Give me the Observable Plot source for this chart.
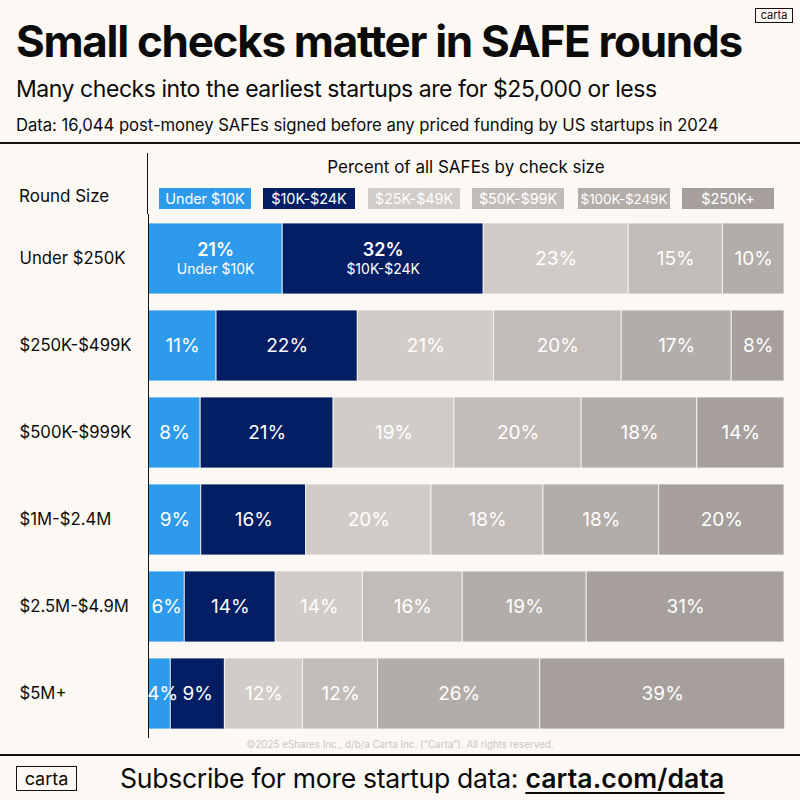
<!DOCTYPE html>
<html><head><meta charset="utf-8">
<script src="https://cdn.jsdelivr.net/npm/d3@7"></script>
<script src="https://cdn.jsdelivr.net/npm/@observablehq/plot@0.6"></script>
<style>
html,body{margin:0;padding:0;background:#fcf9f4;width:800px;height:800px;overflow:hidden;font-family:Inter,sans-serif;color:#0b0b0b}
.a{position:absolute;white-space:nowrap;line-height:1}
.logo{border:1.4px solid #111;box-sizing:border-box;display:flex;align-items:center;justify-content:center;background:#fcf9f4}
.chip{position:absolute;top:188px;width:92px;height:21px;color:#fff;font-size:14.5px;display:flex;align-items:center;justify-content:center;white-space:nowrap;letter-spacing:-.1px}
#chart{position:absolute;left:0;top:213.5px}
</style></head><body>
<div class="a" id="title" style="left:16px;top:19px;font-size:44px;font-weight:700;letter-spacing:-1.3px">Small checks matter in SAFE rounds</div>
<div class="a logo" style="left:755px;top:8px;width:38px;height:15px;font-size:11px">carta</div>
<div class="a" id="sub" style="left:16px;top:78px;font-size:23px;font-weight:400;letter-spacing:-.45px">Many checks into the earliest startups are for $25,000 or less</div>
<div class="a" id="data" style="left:16px;top:117px;font-size:16.7px;letter-spacing:-.05px">Data: 16,044 post-money SAFEs signed before any priced funding by US startups in 2024</div>
<div class="a" style="left:0;top:142px;width:800px;height:2px;background:#111"></div>
<div class="a" style="left:147px;top:153px;width:1px;height:61px;background:#111"></div>
<div class="a" style="left:19px;top:188px;font-size:17px">Round Size</div>
<div class="a" style="left:148px;width:636px;text-align:center;top:159px;font-size:17px">Percent of all SAFEs by check size</div>
<div id="legend"></div>
<div id="chart"></div>
<div class="a" style="left:0;width:800px;text-align:center;top:740px;font-size:9.8px;color:#c9c5c0">©2025 eShares Inc., d/b/a Carta Inc. (“Carta”). All rights reserved.</div>
<div class="a" style="left:0;top:754px;width:800px;height:2px;background:#111"></div>
<div class="a logo" style="left:16px;top:766px;width:61px;height:25px;font-size:18px">carta</div>
<div class="a" id="sub2" style="left:120px;top:765px;font-size:26.6px;letter-spacing:-.3px">Subscribe for more startup data: <span style="font-weight:600;letter-spacing:.1px;text-decoration:underline;text-underline-offset:4px;text-decoration-thickness:1.5px">carta.com/data</span></div>
<script>
const rounds = ["Under $250K","$250K-$499K","$500K-$999K","$1M-$2.4M","$2.5M-$4.9M","$5M+"];
const checks = ["Under $10K","$10K-$24K","$25K-$49K","$50K-$99K","$100K-$249K","$250K+"];
const colors = ["#2e9aec","#041e63","#d1ccc8","#c2bcb8","#b3ada9","#a69f9c"];
// Segment shares. The first row has five segments in the source.
const under250  = [21.1,31.6,22.8,14.8,9.7];
const r250to499 = [10.7,22.2,21.4,20.1,17.3,8.3];
const r500to999 = [8.2,20.9,19.0,20.0,18.2,13.7];
const r1to24    = [8.3,16.5,19.7,17.6,18.2,19.7];
const r25to49   = [5.7,14.3,13.7,15.7,19.5,31.1];
const r5plus    = [3.5,8.5,12.3,11.8,25.5,38.5];
// Percent labels as printed on the chart.
const labels250  = ["21%","32%","23%","15%","10%"];
const labels499  = ["11%","22%","21%","20%","17%","8%"];
const labels999  = ["8%","21%","19%","20%","18%","14%"];
const labels24   = ["9%","16%","20%","18%","18%","20%"];
const labels49   = ["6%","14%","14%","16%","19%","31%"];
const labels5    = ["4%","9%","12%","12%","26%","39%"];

const series = [under250,r250to499,r500to999,r1to24,r25to49,r5plus];
const printed = [labels250,labels499,labels999,labels24,labels49,labels5];
const rows = series.flatMap((vals,i)=>vals.map((v,j)=>({
  round:rounds[i], row:i, seg:j, value:v, label:printed[i][j], check:checks[j]
})));

const stack = o => Plot.stackX({x:"value", y:"round", order:null, ...o});
const lead = d => d.row===0 && d.seg<2;
const tiny = d => d.row===5 && d.seg===0;
const chart = Plot.plot({
  width:800, height:524, marginLeft:148, marginRight:16, marginTop:0, marginBottom:0,
  x:{domain:[0,100], axis:null},
  y:{domain:rounds, paddingInner:0.188, paddingOuter:0.094, label:null},
  style:{background:"transparent", fontFamily:"Inter, sans-serif"},
  marks:[
    Plot.barX(rows, stack({fill:d=>colors[d.seg], stroke:"#fcf9f4", strokeWidth:0.8})),
    Plot.ruleX([0],{stroke:"#111", strokeWidth:1}),
    Plot.axisY({anchor:"left", tickSize:0, tickPadding:129, textAnchor:"start", fontSize:16.7, fill:"#0b0b0b", label:null}),
    Plot.text(rows, stack({text:d=>lead(d)||tiny(d)?null:d.label, fill:"#fff", fontSize:19})),
    Plot.text(rows, stack({text:d=>tiny(d)?d.label:null, fill:"#fff", fontSize:19, dx:3})),
    Plot.text(rows, stack({text:d=>lead(d)?d.label:null, fill:"#fff", fontSize:18, fontWeight:600, dy:-9})),
    Plot.text(rows, stack({text:d=>lead(d)?d.check:null, fill:"#fff", fontSize:14, dy:11}))
  ]
});
document.getElementById("chart").append(chart);
const chipLefts = [159,263,368,472,578,682];
const lg = document.getElementById("legend");
checks.forEach((c,i)=>{
  const e=document.createElement("div");
  e.className="chip"; e.textContent=c; e.style.left=chipLefts[i]+"px"; e.style.background=colors[i];
  if(i===4) e.style.fontSize="13.5px";
  lg.append(e);
});
</script>
</body></html>
